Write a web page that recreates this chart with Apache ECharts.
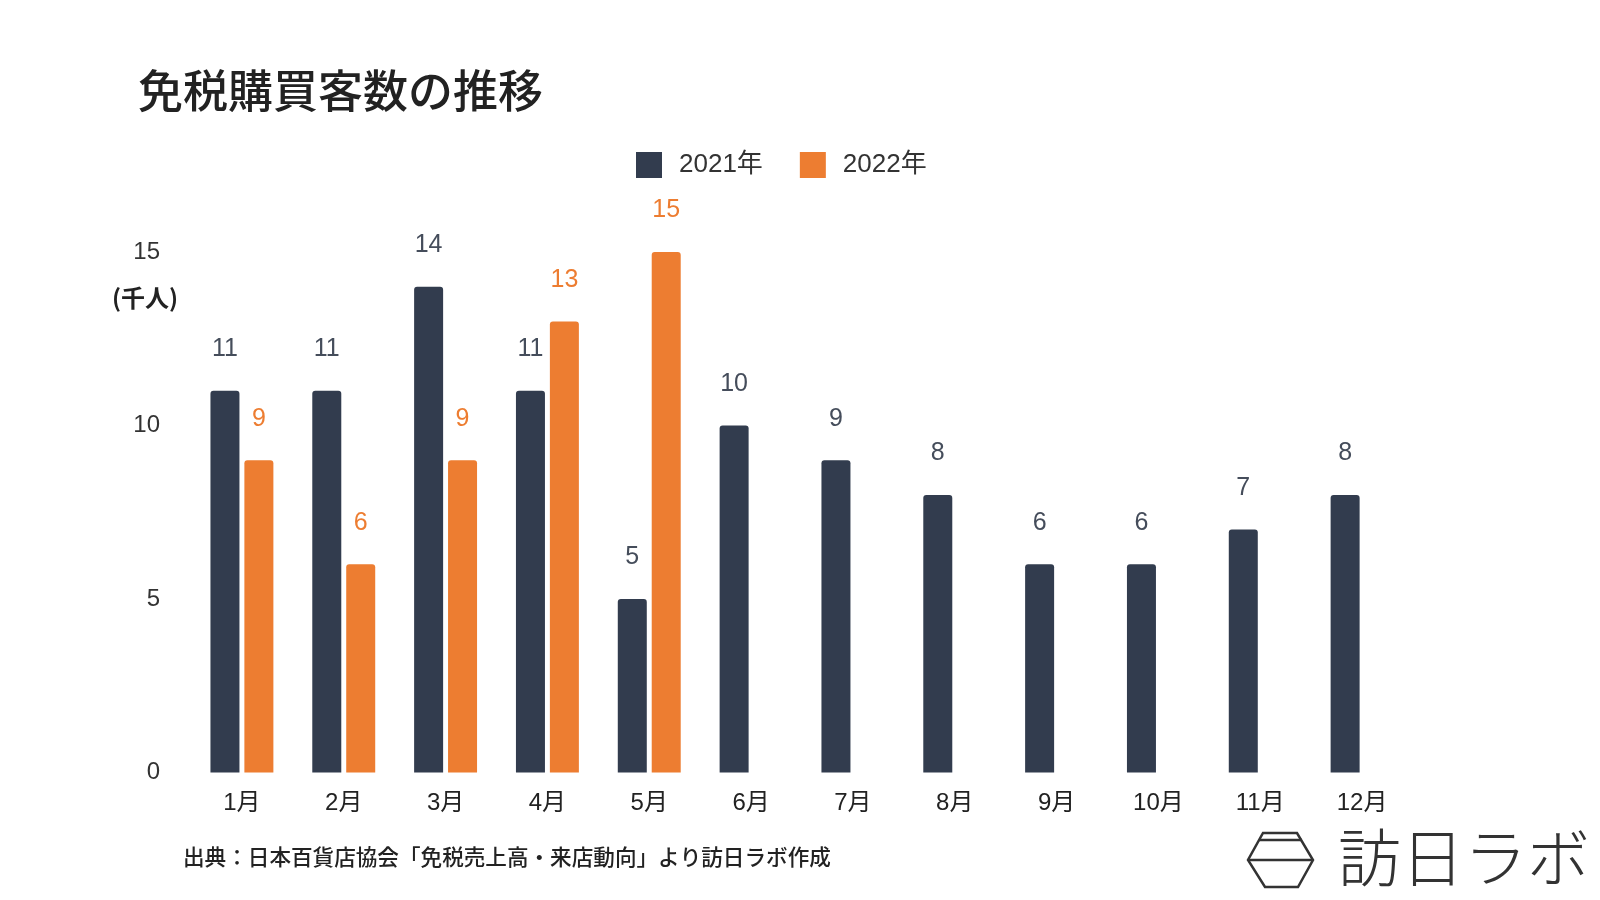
<!DOCTYPE html>
<html>
<head>
<meta charset="utf-8">
<script src="https://cdn.jsdelivr.net/npm/echarts@6/dist/echarts.min.js"></script>
<style>
html,body{margin:0;padding:0;background:#fff;}
#chart{width:1600px;height:900px;}
</style>
</head>
<body>
<div id="chart"></div>
<script>
const categories = ['1月','2月','3月','4月','5月','6月','7月','8月','9月','10月','11月','12月'];
const values2021 = [11, 11, 14, 11, 5, 10, 9, 8, 6, 6, 7, 8];
const values2022 = [9, 6, 9, 13, 15, null, null, null, null, null, null, null];
const seriesNames = ['2021年', '2022年'];
const yTicks = [0, 5, 10, 15];

const NUM_FONT = "'Liberation Sans', 'Noto Sans CJK JP', sans-serif";
const CJK_FONT = "'Noto Sans CJK JP', 'Liberation Sans', sans-serif";
const DARK = '#323c4e';
const ORANGE = '#ed7d31';

const chart = echarts.init(document.getElementById('chart'));
chart.setOption({
  backgroundColor: '#ffffff',
  animation: false,
  title: {
    text: '免税購買客数の推移',
    left: 133,
    top: 63,
    textStyle: { fontFamily: CJK_FONT, fontSize: 45, fontWeight: 500, color: '#222' }
  },
  legend: {
    data: seriesNames,
    left: 631,
    top: 147,
    itemWidth: 26,
    itemHeight: 26,
    itemGap: 37,
    icon: 'rect',
    textStyle: { fontFamily: NUM_FONT, fontSize: 26, color: '#333', padding: [0, 0, 0, 12] }
  },
  grid: { left: 191, right: 187, top: 252, bottom: 127.5, containLabel: false },
  xAxis: {
    type: 'category',
    data: categories,
    axisLine: { show: false },
    axisTick: { show: false },
    axisLabel: { fontFamily: NUM_FONT, fontSize: 24, color: '#222', margin: 19 }
  },
  yAxis: {
    type: 'value',
    min: yTicks[0],
    max: yTicks[yTicks.length - 1],
    interval: yTicks[1] - yTicks[0],
    splitLine: { show: false },
    axisLine: { show: false },
    axisTick: { show: false },
    axisLabel: { fontFamily: NUM_FONT, fontSize: 24, color: '#333', margin: 31 }
  },
  series: [
    {
      name: seriesNames[0],
      type: 'bar',
      data: values2021,
      barWidth: 29,
      barGap: '17%',
      itemStyle: { color: DARK, borderRadius: [3, 3, 0, 0] },
      label: { show: true, position: 'top', distance: 29, fontFamily: NUM_FONT, fontSize: 25, color: '#454d5b' }
    },
    {
      name: seriesNames[1],
      type: 'bar',
      data: values2022,
      barWidth: 29,
      barGap: '17%',
      itemStyle: { color: ORANGE, borderRadius: [3, 3, 0, 0] },
      label: { show: true, position: 'top', distance: 29, fontFamily: NUM_FONT, fontSize: 25, color: ORANGE }
    }
  ],
  graphic: [
    {
      type: 'text', left: 112, top: 286,
      style: { text: '(千人)', fontFamily: CJK_FONT, fontSize: 24, fontWeight: 'bold', fill: '#222' }
    },
    {
      type: 'text', left: 183, top: 846,
      style: { text: '出典：日本百貨店協会「免税売上高・来店動向」より訪日ラボ作成', fontFamily: CJK_FONT, fontSize: 21.6, fontWeight: 500, fill: '#222' }
    },
    {
      type: 'polygon',
      shape: { points: [[1263, 833], [1297, 833], [1313, 860], [1298, 887], [1265, 887], [1248, 860]] },
      style: { fill: 'none', stroke: '#333', lineWidth: 2.5 }
    },
    {
      type: 'line',
      shape: { x1: 1259, y1: 840, x2: 1302, y2: 840 },
      style: { stroke: '#333', lineWidth: 2.5 }
    },
    {
      type: 'line',
      shape: { x1: 1248, y1: 860, x2: 1313, y2: 860 },
      style: { stroke: '#333', lineWidth: 2.5 }
    },
    {
      type: 'text', left: 1338, top: 826,
      style: { text: '訪日ラボ', fontFamily: CJK_FONT, fontSize: 63, fontWeight: 300, fill: '#333' }
    }
  ]
});
</script>
</body>
</html>
